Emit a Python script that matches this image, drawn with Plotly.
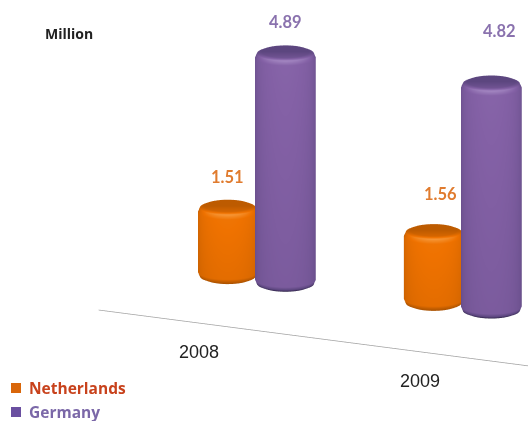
import numpy as np
import plotly.graph_objects as go

years = ["2008", "2009"]
netherlands = [1.51, 1.56]
germany = [4.89, 4.82]
unit_label = "Million"

# Scene extents, in category units along x and millions along z
X_RANGE = [-1.564, 1.636]
Y_RANGE = [-0.6, 0.6]
Z_RANGE = [-3.39, 6.41]
PX_PER_CATEGORY = 231.0
PX_PER_MILLION = 49.7

# Camera: orthographic, looking slightly down and from the right
AZIMUTH = np.arctan(0.5)
ELEVATION = np.arcsin(0.26)
VIEW_DISTANCE = 1.0
BOX_SCALE = 3.5

RADIUS = 0.132
OFFSET = 0.14
BEVEL = 0.028

ORANGE_SCALE = [[0, "#a04c00"], [0.3, "#bd5b00"], [0.7, "#ef7200"], [1, "#f79a3c"]]
PURPLE_SCALE = [[0, "#1a1230"], [0.3, "#5d4780"], [0.7, "#8461a6"], [1, "#a68ac4"]]

# Pixel nudges for the value labels, (x, y) per category
NETHERLANDS_SHIFT = [(0, -9), (7, -1)]
GERMANY_SHIFT = [(0, -8), (8, 13)]


def cylinder(cx, value, radius, colorscale, name):
    """Bevelled cylinder standing on z=0, shaded by facing angle."""
    theta = np.linspace(0, 2 * np.pi, 121)
    bevel_z = BEVEL * PX_PER_CATEGORY / PX_PER_MILLION
    radii = np.array([0, radius - BEVEL, radius - BEVEL * 0.3, radius, radius,
                      radius - BEVEL * 0.3, radius - BEVEL, 0])
    heights = np.array([0, 0, bevel_z * 0.3, bevel_z, value - bevel_z,
                        value - bevel_z * 0.3, value, value])
    rr, tt = np.meshgrid(radii, theta, indexing="ij")
    zz = np.repeat(heights[:, None], theta.size, axis=1)
    xx = cx + rr * np.cos(tt)
    yy = rr * np.sin(tt)

    # facing = 1 toward the viewer, 0 at the silhouette
    view = -np.pi / 2 + AZIMUTH
    facing = np.clip(np.cos(theta - view), 0, 1)
    side = 0.3 + 0.42 * facing ** 0.45
    shade = np.empty_like(zz)
    shade[0] = 0.02
    shade[1] = 0.02
    shade[2] = 0.1 + 0.1 * facing
    shade[3] = side * 0.85
    shade[4] = side
    shade[5] = 0.42 + 0.55 * facing
    shade[6] = 0.3 + 0.2 * facing
    shade[7] = 0.3

    return go.Surface(
        x=xx, y=yy, z=zz, surfacecolor=shade, colorscale=colorscale,
        cmin=0, cmax=1, showscale=False, hoverinfo="skip", name=name,
        showlegend=False,
        lighting=dict(ambient=1, diffuse=0, specular=0, fresnel=0),
        contours=dict(x=dict(highlight=False), y=dict(highlight=False), z=dict(highlight=False)),
    )


fig = go.Figure()
for i, year in enumerate(years):
    fig.add_trace(cylinder(i - OFFSET, netherlands[i], RADIUS * 0.98, ORANGE_SCALE, "Netherlands"))
    fig.add_trace(cylinder(i + OFFSET, germany[i], RADIUS, PURPLE_SCALE, "Germany"))

# Category axis line, on the floor in front of the bars
fig.add_trace(go.Scatter3d(
    x=[-0.767, 1.5], y=[0, 0], z=[-1.02, -1.02], mode="lines",
    line=dict(color="#a0a0a0", width=1.5), hoverinfo="skip", showlegend=False,
))

value_labels = []
for i in range(len(years)):
    for value, dx, color, shift in [
        (netherlands[i], -OFFSET, "#e07b2e", NETHERLANDS_SHIFT[i]),
        (germany[i], OFFSET, "#8a72ae", GERMANY_SHIFT[i]),
    ]:
        value_labels.append(dict(
            x=i + dx, y=0, z=value + 0.78, text=f"{value:.2f}", showarrow=False,
            xshift=shift[0], yshift=shift[1],
            font=dict(family="Lato", size=16.5, color=color, weight="bold"),
        ))

hidden = dict(visible=False, showgrid=False, zeroline=False, showspikes=False, showbackground=False)
eye = VIEW_DISTANCE * np.array([
    np.sin(AZIMUTH) * np.cos(ELEVATION),
    -np.cos(AZIMUTH) * np.cos(ELEVATION),
    np.sin(ELEVATION),
])
x_span = (X_RANGE[1] - X_RANGE[0]) * PX_PER_CATEGORY


def paper_text(px, py, text, color, family, size, weight="normal", anchor="center"):
    return dict(xref="paper", yref="paper", x=px / 528, y=1 - py / 421, text=text, showarrow=False,
                xanchor=anchor, yanchor="middle",
                font=dict(family=family, size=size, color=color, weight=weight))


def swatch(py, color):
    return dict(type="rect", xref="paper", yref="paper", x0=11 / 528, x1=21 / 528,
                y0=1 - (py + 5) / 421, y1=1 - (py - 5) / 421,
                fillcolor=color, line=dict(width=0))


fig.update_layout(
    width=528, height=421, margin=dict(l=0, r=0, t=0, b=0),
    paper_bgcolor="white", showlegend=False,
    scene=dict(
        domain=dict(x=[0, 1], y=[0, 1]),
        xaxis=dict(range=X_RANGE, **hidden),
        yaxis=dict(range=Y_RANGE, **hidden),
        zaxis=dict(range=Z_RANGE, **hidden),
        aspectmode="manual",
        aspectratio=dict(
            x=BOX_SCALE,
            y=BOX_SCALE * (Y_RANGE[1] - Y_RANGE[0]) * PX_PER_CATEGORY / x_span,
            z=BOX_SCALE * (Z_RANGE[1] - Z_RANGE[0]) * PX_PER_MILLION / x_span,
        ),
        camera=dict(
            eye=dict(x=float(eye[0]), y=float(eye[1]), z=float(eye[2])),
            center=dict(x=0, y=0, z=0),
            up=dict(x=0, y=0, z=1),
            projection=dict(type="orthographic"),
        ),
        annotations=value_labels,
        bgcolor="white",
    ),
    shapes=[swatch(388, "#d9660a"), swatch(412, "#6a4fa0")],
    annotations=[
        paper_text(69, 33, unit_label, "#222222", "Open Sans", 14, "bold"),
        paper_text(199, 352, years[0], "#222222", "Liberation Sans", 18),
        paper_text(420, 381, years[1], "#222222", "Liberation Sans", 18),
        paper_text(27, 388, "Netherlands", "#c8421c", "Open Sans", 15.5, "bold", "left"),
        paper_text(27, 412, "Germany", "#7b68a8", "Open Sans", 15.5, "bold", "left"),
    ],
)

fig.write_html("out.html", config=dict(displayModeBar=False))
